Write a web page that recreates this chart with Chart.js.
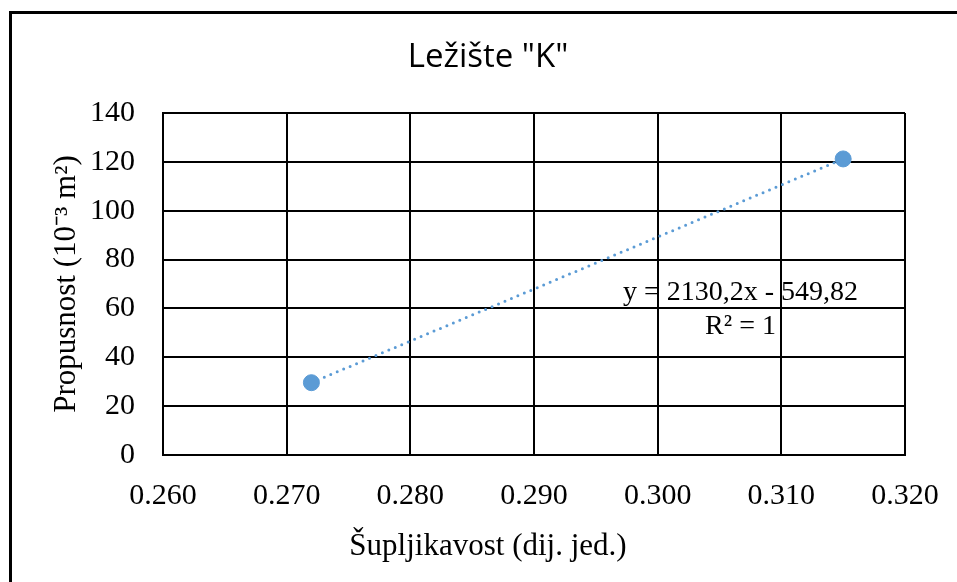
<!DOCTYPE html>
<html>
<head>
<meta charset="utf-8">
<script src="https://cdn.jsdelivr.net/npm/chart.js@4"></script>
<style>
  html, body { margin: 0; padding: 0; background: #fff; overflow: hidden; }
  #wrap { position: relative; width: 957px; height: 582px; overflow: hidden; }
  #frame { position: absolute; left: 9px; top: 11px; width: 2000px; height: 2000px;
           border-left: 3px solid #000; border-top: 3px solid #000; box-sizing: border-box; pointer-events: none; }
  canvas { position: absolute; left: 0; top: 0; }
</style>
</head>
<body>
<div id="wrap">
  <canvas id="c" width="976" height="582"></canvas>
  <div id="frame"></div>
</div>
<script>
// ---- data ----
const chartTitle = 'Ležište "K"';
const xAxisTitle = 'Šupljikavost (dij. jed.)';
const yAxisTitle = 'Propusnost (10⁻³ m²)';
const porosity = [0.272, 0.315];
const permeability = [29.6, 121.2];
const xTickMin = 0.26, xTickMax = 0.32, xTickStep = 0.01;
const yTickMin = 0, yTickMax = 140, yTickStep = 20;
const equationLines = ['y = 2130,2x - 549,82', 'R² = 1'];
const equationAnchor = { x: 0.3067, y: 66.3 };

// least-squares trendline through the data
const n = porosity.length;
const mx = porosity.reduce((a, b) => a + b, 0) / n;
const my = permeability.reduce((a, b) => a + b, 0) / n;
let sxy = 0, sxx = 0;
for (let i = 0; i < n; i++) { sxy += (porosity[i] - mx) * (permeability[i] - my); sxx += (porosity[i] - mx) ** 2; }
const slope = sxy / sxx, intercept = my - slope * mx;
const xMinData = Math.min(...porosity), xMaxData = Math.max(...porosity);
const trend = [xMinData, xMaxData].map(x => ({ x, y: slope * x + intercept }));

const points = porosity.map((x, i) => ({ x, y: permeability[i] }));

const serif = "'Liberation Serif', 'Times New Roman', serif";

const textPlugin = {
  id: 'extraText',
  afterDatasetsDraw(chart) {
    const { ctx, scales } = chart;
    ctx.save();
    ctx.fillStyle = '#000';
    ctx.textAlign = 'center';
    // chart title, centred on the whole chart like the original
    ctx.textBaseline = 'alphabetic';
    ctx.font = "33px 'Open Sans', sans-serif";
    ctx.fillText(chartTitle, chart.width / 2, 67);
    ctx.textBaseline = 'middle';
    // trendline equation (first line at anchor)
    const cx = scales.x.getPixelForValue(equationAnchor.x);
    const cy = scales.y.getPixelForValue(equationAnchor.y);
    ctx.font = '28px ' + serif;
    const lh = 34;
    equationLines.forEach((t, i) => ctx.fillText(t, cx, cy + i * lh));
    // x axis title, centred on the whole chart
    ctx.font = '31px ' + serif;
    ctx.fillText(xAxisTitle, chart.width / 2, scales.x.bottom - 35);
    ctx.restore();
  }
};

new Chart(document.getElementById('c'), {
  type: 'scatter',
  data: {
    datasets: [
      {
        label: 'Trend',
        data: trend,
        showLine: true,
        borderColor: '#5B9BD5',
        borderWidth: 3,
        borderDash: [0, 7],
        borderCapStyle: 'round',
        pointRadius: 0,
        fill: false,
        order: 2
      },
      {
        label: 'Data',
        data: points,
        backgroundColor: '#5B9BD5',
        borderColor: '#5B9BD5',
        pointRadius: 8,
        pointHoverRadius: 8,
        order: 1
      }
    ]
  },
  options: {
    responsive: false,
    animation: false,
    layout: { padding: { left: 0, right: 71, top: 113, bottom: 0 } },
    plugins: {
      legend: { display: false },
      tooltip: { enabled: false },
      title: { display: false }
    },
    scales: {
      x: {
        type: 'linear',
        min: xTickMin,
        max: xTickMax,
        afterFit: s => { s.height = 127; },
        ticks: {
          stepSize: xTickStep,
          color: '#000',
          padding: 23,
          font: { family: serif, size: 30 },
          maxRotation: 0,
          callback: v => Number(v).toFixed(3)
        },
        grid: { color: '#000', lineWidth: 2, drawTicks: false },
        border: { color: '#000', width: 2 },
        title: { display: false }
      },
      y: {
        min: yTickMin,
        max: yTickMax,
        afterFit: s => { s.width = 163; },
        ticks: {
          stepSize: yTickStep,
          color: '#000',
          padding: 28,
          font: { family: serif, size: 30 }
        },
        grid: { color: '#000', lineWidth: 2, drawTicks: false },
        border: { color: '#000', width: 2 },
        title: {
          display: true,
          text: yAxisTitle,
          color: '#000',
          font: { family: serif, size: 31 },
          padding: { top: 48, bottom: 0 }
        }
      }
    }
  },
  plugins: [textPlugin]
});
</script>
</body>
</html>
